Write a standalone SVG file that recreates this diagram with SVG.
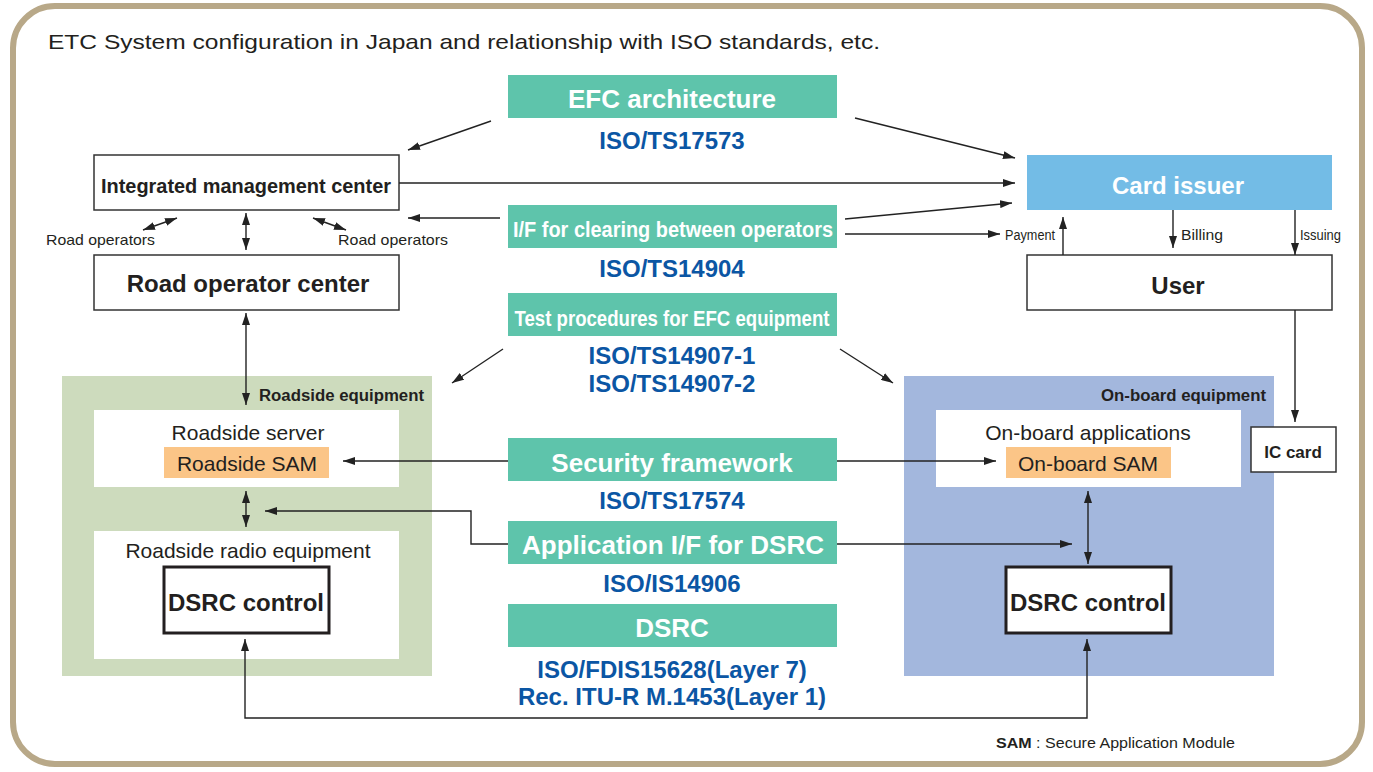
<svg xmlns="http://www.w3.org/2000/svg" width="1373" height="772" viewBox="0 0 1373 772">
<defs>
<marker id="ah" viewBox="0 0 12 8" refX="12" refY="4" markerWidth="12" markerHeight="8" markerUnits="userSpaceOnUse" orient="auto-start-reverse">
<path d="M0,0 L12,4 L0,8 Z" fill="#222"/>
</marker>
<style>
text{font-family:"Liberation Sans",Arial,sans-serif;fill:#231f20}
.b{font-weight:bold}
.hdr{font-weight:bold;fill:#fff;text-anchor:middle}
.iso{font-weight:bold;fill:#0b56a4;text-anchor:middle;font-size:24px}
.box{fill:#fff;stroke:#333;stroke-width:1.5}
.grn{fill:#5ec4ab}
.c line,.c polyline{stroke:#222;stroke-width:1.4;fill:none}
.m{text-anchor:middle}
</style>
</defs>
<rect x="13" y="6" width="1349" height="758" rx="42" fill="#fff" stroke="#b8a888" stroke-width="6"/>
<text x="48" y="49" font-size="21" textLength="832" lengthAdjust="spacingAndGlyphs">ETC System configuration in Japan and relationship with ISO standards, etc.</text>

<g id="roadside-equipment">
<rect x="62" y="376" width="370" height="300" fill="#cddbbd"/>
<text x="424" y="401" class="b" font-size="16" text-anchor="end" textLength="165" lengthAdjust="spacingAndGlyphs">Roadside equipment</text>
</g>
<g id="onboard-equipment">
<rect x="904" y="376" width="370" height="300" fill="#a3b7dd"/>
<text x="1266" y="401" class="b" font-size="16" text-anchor="end" textLength="165" lengthAdjust="spacingAndGlyphs">On-board equipment</text>
</g>

<g id="efc-architecture">
<rect class="grn" x="508" y="75" width="329" height="43"/>
<text class="hdr" x="672" y="108" font-size="26">EFC architecture</text>
<text class="iso" x="672" y="149">ISO/TS17573</text>
</g>
<g id="clearing-if">
<rect class="grn" x="508" y="205" width="329" height="43"/>
<text class="hdr" x="673" y="237" font-size="22" textLength="320" lengthAdjust="spacingAndGlyphs">I/F for clearing between operators</text>
<text class="iso" x="672" y="277">ISO/TS14904</text>
</g>
<g id="test-procedures">
<rect class="grn" x="508" y="293" width="329" height="43"/>
<text class="hdr" x="672" y="326" font-size="22" textLength="315" lengthAdjust="spacingAndGlyphs">Test procedures for EFC equipment</text>
<text class="iso" x="672" y="364">ISO/TS14907-1</text>
<text class="iso" x="672" y="392">ISO/TS14907-2</text>
</g>
<g id="security-framework">
<rect class="grn" x="508" y="438" width="329" height="43"/>
<text class="hdr" x="672" y="472" font-size="26">Security framework</text>
<text class="iso" x="672" y="509">ISO/TS17574</text>
</g>
<g id="application-if">
<rect class="grn" x="508" y="521" width="329" height="43"/>
<text class="hdr" x="673" y="554" font-size="26">Application I/F for DSRC</text>
<text class="iso" x="672" y="592">ISO/IS14906</text>
</g>
<g id="dsrc">
<rect class="grn" x="508" y="604" width="329" height="43"/>
<text class="hdr" x="672" y="637" font-size="26">DSRC</text>
<text class="iso" x="672" y="678">ISO/FDIS15628(Layer 7)</text>
<text class="iso" x="672" y="705">Rec. ITU-R M.1453(Layer 1)</text>
</g>

<g id="integrated-management-center">
<rect class="box" x="94" y="155" width="305" height="55"/>
<text x="246" y="193" class="b m" font-size="20" textLength="290" lengthAdjust="spacingAndGlyphs">Integrated management center</text>
</g>
<g id="road-operator-center">
<rect class="box" x="94" y="255" width="305" height="55"/>
<text x="248" y="292" class="b m" font-size="24">Road operator center</text>
</g>
<g id="card-issuer">
<rect x="1027" y="155" width="305" height="55" fill="#73bce6"/>
<text x="1178" y="194" class="b m" font-size="24" style="fill:#fff">Card issuer</text>
</g>
<g id="user">
<rect class="box" x="1027" y="255" width="305" height="55"/>
<text x="1178" y="294" class="b m" font-size="24">User</text>
</g>
<g id="ic-card">
<rect class="box" x="1251" y="427" width="85" height="45"/>
<text x="1293" y="458" class="b m" font-size="17">IC card</text>
</g>
<g id="roadside-server">
<rect x="94" y="410" width="305" height="77" fill="#fff"/>
<text x="248" y="440" class="m" font-size="21">Roadside server</text>
<rect x="164" y="447" width="165" height="31" fill="#fbc587"/>
<text x="247" y="471" class="m" font-size="21">Roadside SAM</text>
</g>
<g id="roadside-radio">
<rect x="94" y="531" width="305" height="128" fill="#fff"/>
<text x="248" y="558" class="m" font-size="21">Roadside radio equipment</text>
<rect x="164" y="567" width="165" height="66" fill="#fff" stroke="#231f20" stroke-width="3"/>
<text x="246" y="611" class="b m" font-size="24">DSRC control</text>
</g>
<g id="onboard-applications">
<rect x="936" y="410" width="305" height="77" fill="#fff"/>
<text x="1088" y="440" class="m" font-size="21">On-board applications</text>
<rect x="1006" y="447" width="165" height="31" fill="#fbc587"/>
<text x="1088" y="471" class="m" font-size="21">On-board SAM</text>
</g>
<g id="onboard-dsrc">
<rect x="1006" y="567" width="165" height="66" fill="#fff" stroke="#231f20" stroke-width="3"/>
<text x="1088" y="611" class="b m" font-size="24">DSRC control</text>
</g>

<g id="connectors" class="c">
<line x1="491" y1="121" x2="408" y2="150" marker-end="url(#ah)"/>
<line x1="855" y1="118" x2="1015" y2="158" marker-end="url(#ah)"/>
<line x1="399" y1="183" x2="1015" y2="183" marker-end="url(#ah)"/>
<line x1="500" y1="218" x2="408" y2="218" marker-end="url(#ah)"/>
<line x1="845" y1="219" x2="1012" y2="203" marker-end="url(#ah)"/>
<line x1="845" y1="234" x2="1000" y2="234" marker-end="url(#ah)"/>
<line x1="1063" y1="255" x2="1063" y2="217" marker-end="url(#ah)"/>
<line x1="1173" y1="210" x2="1173" y2="248" marker-end="url(#ah)"/>
<line x1="1295" y1="210" x2="1295" y2="255" marker-end="url(#ah)"/>
<line x1="1295" y1="310" x2="1295" y2="422" marker-end="url(#ah)"/>
<line x1="143" y1="230" x2="177" y2="218" marker-start="url(#ah)" marker-end="url(#ah)"/>
<line x1="313" y1="218" x2="346" y2="230" marker-start="url(#ah)" marker-end="url(#ah)"/>
<line x1="246" y1="213" x2="246" y2="250" marker-start="url(#ah)" marker-end="url(#ah)"/>
<line x1="246" y1="313" x2="246" y2="405" marker-start="url(#ah)" marker-end="url(#ah)"/>
<line x1="503" y1="349" x2="452" y2="383" marker-end="url(#ah)"/>
<line x1="840" y1="349" x2="893" y2="383" marker-end="url(#ah)"/>
<line x1="508" y1="461" x2="343" y2="461" marker-end="url(#ah)"/>
<line x1="837" y1="461" x2="996" y2="461" marker-end="url(#ah)"/>
<polyline points="508,544 471,544 471,511 265,511" marker-end="url(#ah)"/>
<line x1="837" y1="544" x2="1072" y2="544" marker-end="url(#ah)"/>
<line x1="246" y1="491" x2="246" y2="527" marker-start="url(#ah)" marker-end="url(#ah)"/>
<line x1="1088" y1="491" x2="1088" y2="564" marker-start="url(#ah)" marker-end="url(#ah)"/>
<polyline points="245,639 245,718 1087,718 1087,639" marker-start="url(#ah)" marker-end="url(#ah)"/>
</g>

<g id="labels">
<text x="46" y="245" font-size="15" textLength="109" lengthAdjust="spacingAndGlyphs">Road operators</text>
<text x="338" y="245" font-size="15" textLength="110" lengthAdjust="spacingAndGlyphs">Road operators</text>
<text x="1005" y="240" font-size="14" textLength="50" lengthAdjust="spacingAndGlyphs">Payment</text>
<text x="1181" y="240" font-size="15" textLength="42" lengthAdjust="spacingAndGlyphs">Billing</text>
<text x="1300" y="240" font-size="14" textLength="41" lengthAdjust="spacingAndGlyphs">Issuing</text>
<text x="996" y="748" font-size="15" textLength="239" lengthAdjust="spacingAndGlyphs"><tspan font-weight="bold">SAM</tspan> : Secure Application Module</text>
</g>
</svg>
